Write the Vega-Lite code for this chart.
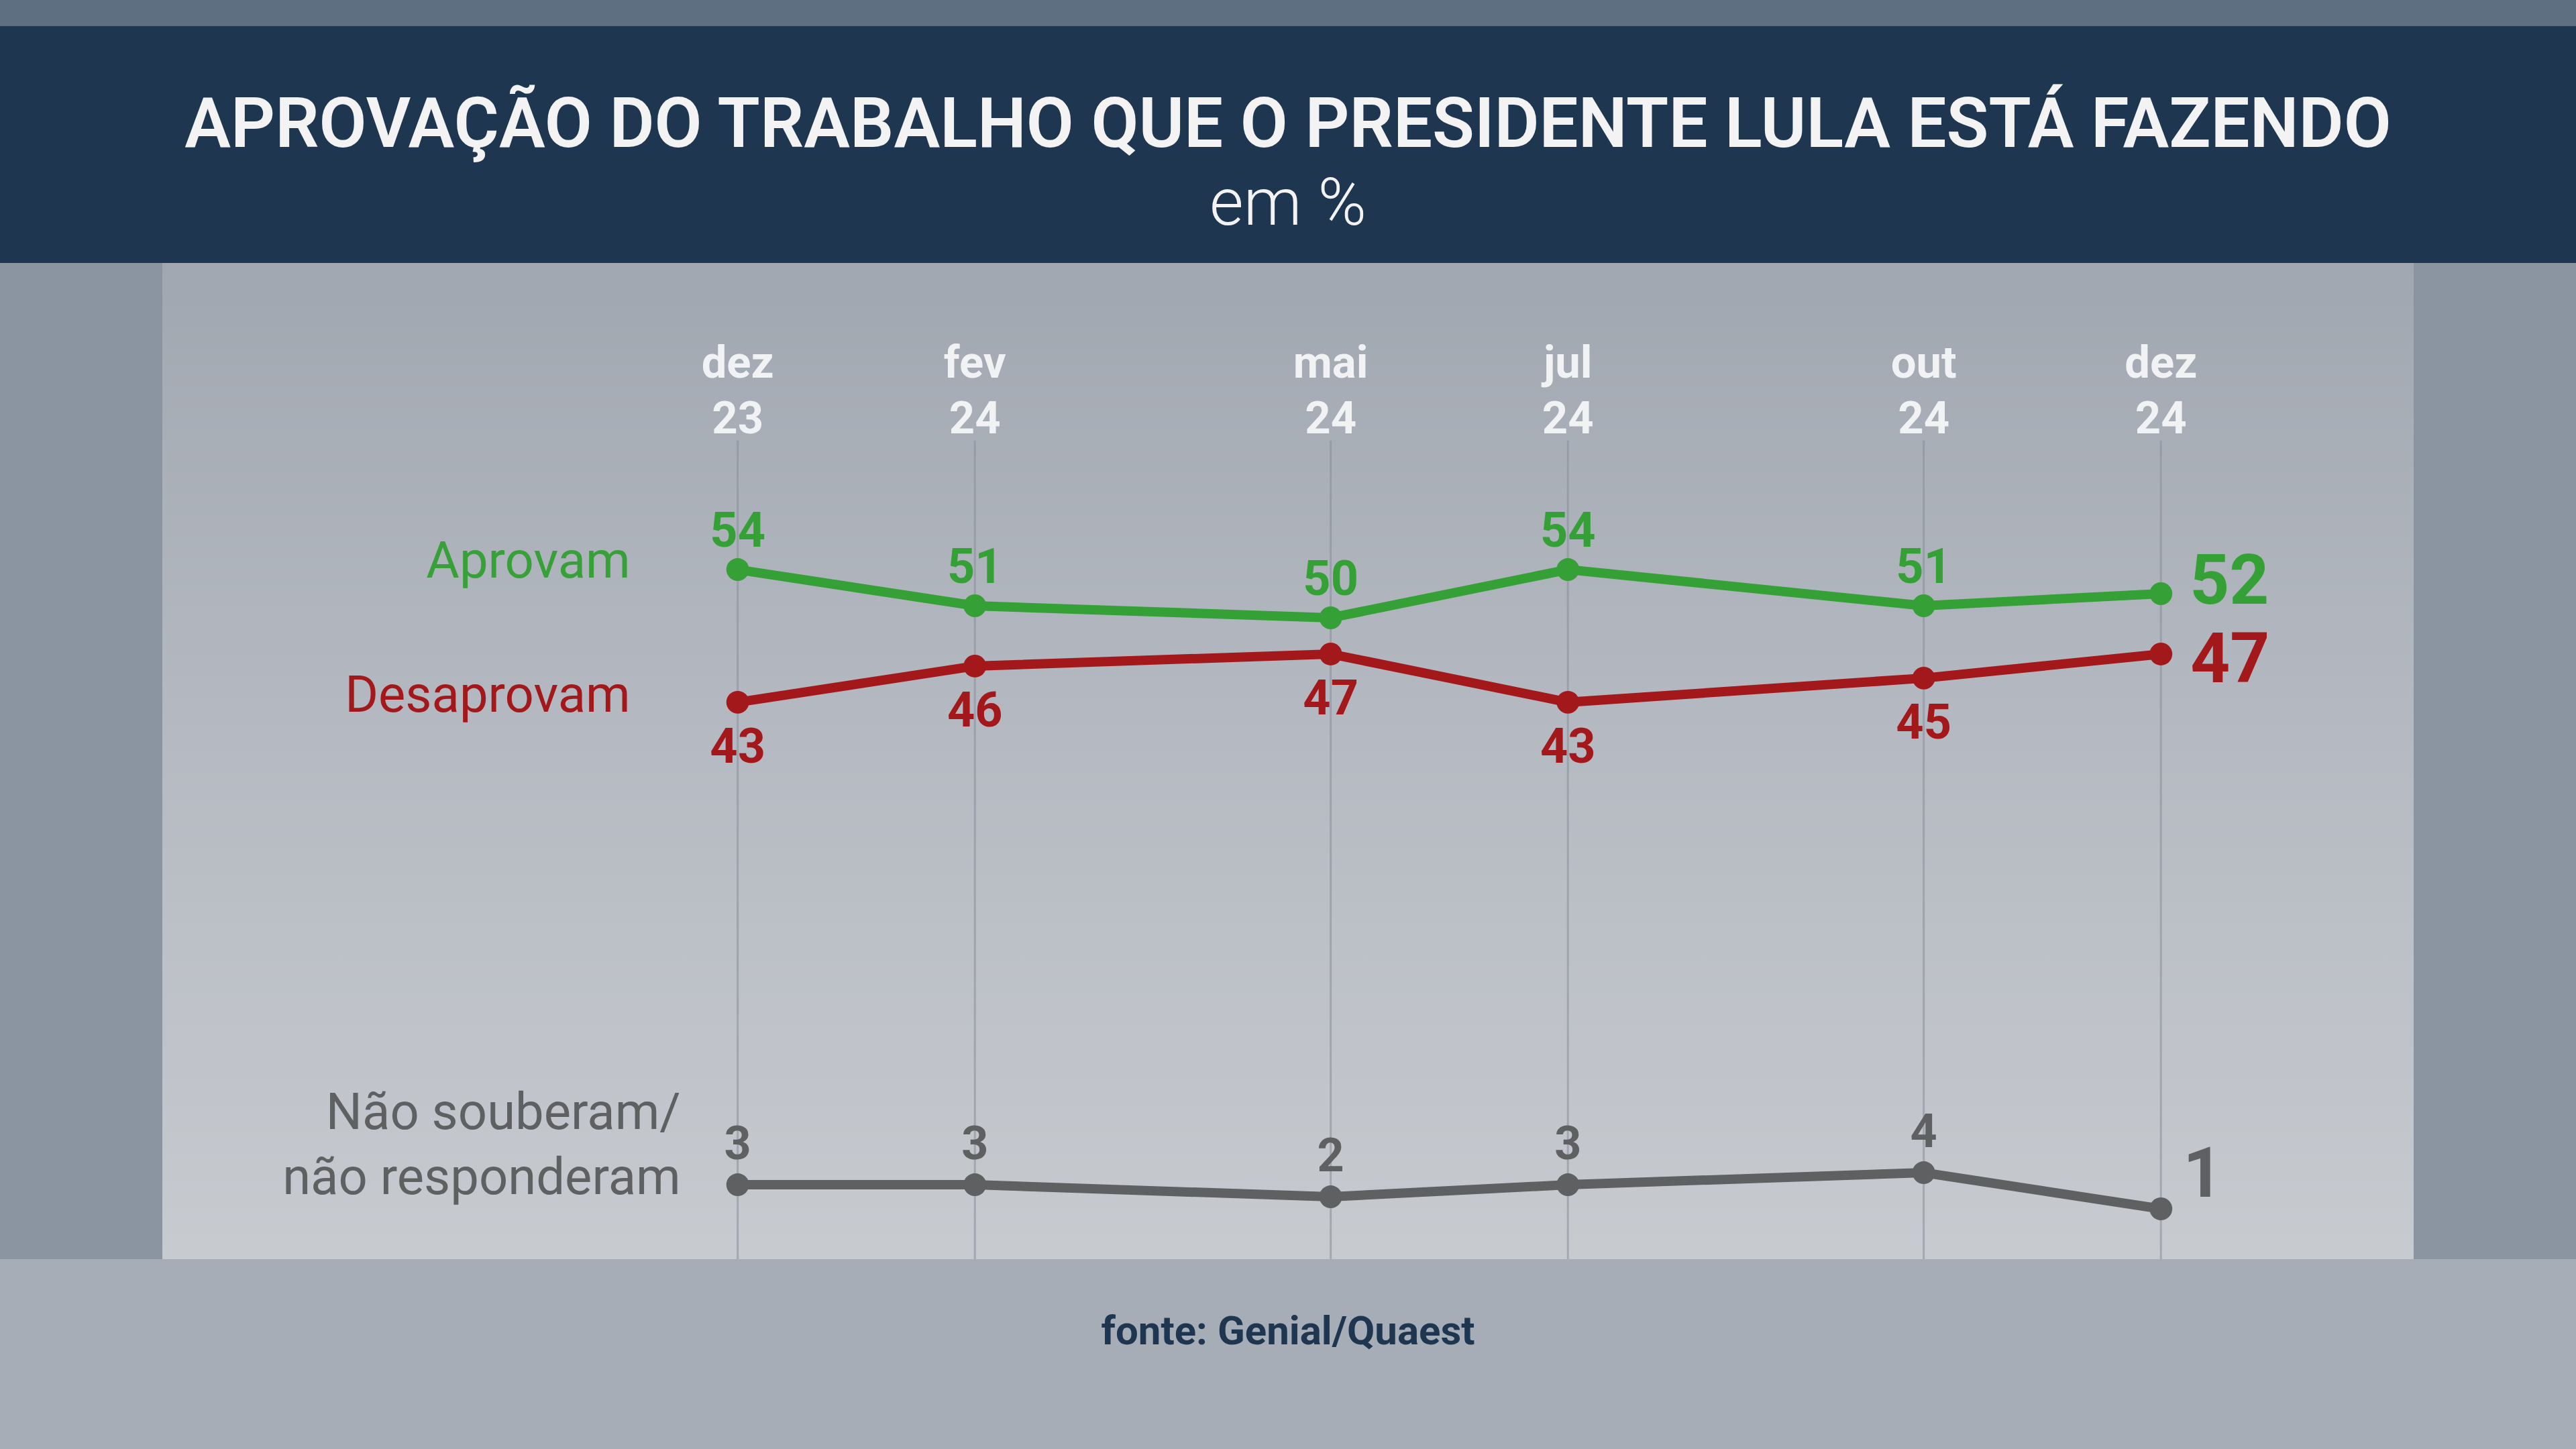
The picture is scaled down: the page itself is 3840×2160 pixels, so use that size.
{
  "$schema": "https://vega.github.io/schema/vega-lite/v6.json",
  "background": "#8a95a1",
  "padding": 0,
  "spacing": 0,
  "bounds": "flush",
  "center": true,
  "config": {"view": {"stroke": null}, "font": "Roboto"},
  "datasets": {
    "pontos": [
      {"serie": "Aprovam", "m": 0, "v": 54},
      {"serie": "Aprovam", "m": 2, "v": 51},
      {"serie": "Aprovam", "m": 5, "v": 50},
      {"serie": "Aprovam", "m": 7, "v": 54},
      {"serie": "Aprovam", "m": 10, "v": 51},
      {"serie": "Aprovam", "m": 12, "v": 52},
      {"serie": "Desaprovam", "m": 0, "v": 43},
      {"serie": "Desaprovam", "m": 2, "v": 46},
      {"serie": "Desaprovam", "m": 5, "v": 47},
      {"serie": "Desaprovam", "m": 7, "v": 43},
      {"serie": "Desaprovam", "m": 10, "v": 45},
      {"serie": "Desaprovam", "m": 12, "v": 47},
      {"serie": "Não souberam/\nnão responderam", "m": 0, "v": 3},
      {"serie": "Não souberam/\nnão responderam", "m": 2, "v": 3},
      {"serie": "Não souberam/\nnão responderam", "m": 5, "v": 2},
      {"serie": "Não souberam/\nnão responderam", "m": 7, "v": 3},
      {"serie": "Não souberam/\nnão responderam", "m": 10, "v": 4},
      {"serie": "Não souberam/\nnão responderam", "m": 12, "v": 1}
    ],
    "meses": [
      {"m": 0, "rotulo": "dez\n23"},
      {"m": 2, "rotulo": "fev\n24"},
      {"m": 5, "rotulo": "mai\n24"},
      {"m": 7, "rotulo": "jul\n24"},
      {"m": 10, "rotulo": "out\n24"},
      {"m": 12, "rotulo": "dez\n24"}
    ]
  },
  "vconcat": [
    {
      "width": 3840,
      "height": 392,
      "view": {"stroke": null, "fill": {"gradient": "linear", "x1": 0, "y1": 0, "x2": 0, "y2": 1, "stops": [{"offset": 0, "color": "#5d6f80"}, {"offset": 0.098, "color": "#5d6f80"}, {"offset": 0.1, "color": "#1f3651"}, {"offset": 1, "color": "#1f3651"}]}},
      "data": {"values": [{"titulo": "APROVAÇÃO DO TRABALHO QUE O PRESIDENTE LULA ESTÁ FAZENDO", "sub": "em %"}]},
      "layer": [
        {"mark": {"type": "text", "font": "Roboto", "fontWeight": 600, "fontSize": 103, "color": "#f3f3f3", "align": "center", "baseline": "alphabetic", "dy": 23}, "encoding": {"text": {"field": "titulo"}}},
        {"mark": {"type": "text", "font": "Roboto", "fontWeight": 300, "fontSize": 98, "color": "#f3f3f3", "align": "center", "baseline": "alphabetic", "dy": 139}, "encoding": {"text": {"field": "sub"}}}
      ]
    },
    {
      "width": 3356,
      "height": 1485,
      "view": {"stroke": null, "fill": {"gradient": "linear", "x1": 0, "y1": 0, "x2": 0, "y2": 1, "stops": [{"offset": 0, "color": "#a1a7b0"}, {"offset": 0.45, "color": "#b4b9c1"}, {"offset": 1, "color": "#c7cacf"}]}},
      "layer": [
        {
          "data": {"name": "meses"},
          "mark": {"type": "rule", "color": "#868d97", "strokeWidth": 3, "opacity": 0.55},
          "encoding": {
            "x": {"field": "m", "type": "quantitative", "scale": {"domain": [-4.851, 14.131], "nice": false, "zero": false}, "axis": null},
            "y": {"datum": 64.7, "type": "quantitative", "scale": {"domain": [-3.17, 79.42], "nice": false, "zero": false}, "axis": null},
            "y2": {"datum": -3.17}
          }
        },
        {
          "data": {"name": "meses"},
          "mark": {"type": "text", "fontWeight": "bold", "fontSize": 67, "color": "#f1f2f3", "align": "center", "baseline": "alphabetic", "lineBreak": "\n", "lineHeight": 83},
          "encoding": {
            "x": {"field": "m", "type": "quantitative"},
            "y": {"datum": 69.9, "type": "quantitative"},
            "text": {"field": "rotulo"}
          }
        },
        {
          "data": {"name": "pontos"},
          "mark": {"type": "line", "strokeWidth": 14, "strokeCap": "round"},
          "encoding": {
            "x": {"field": "m", "type": "quantitative"},
            "y": {"field": "v", "type": "quantitative"},
            "color": {"field": "serie", "type": "nominal", "scale": {"domain": ["Aprovam", "Desaprovam", "Não souberam/\nnão responderam"], "range": ["#35a035", "#a3181b", "#5e6062"]}, "legend": null}
          }
        },
        {
          "data": {"name": "pontos"},
          "mark": {"type": "circle", "size": 1150, "opacity": 1},
          "encoding": {
            "x": {"field": "m", "type": "quantitative"},
            "y": {"field": "v", "type": "quantitative"},
            "color": {"field": "serie", "type": "nominal", "legend": null}
          }
        },
        {
          "data": {"name": "pontos"},
          "transform": [{"filter": "datum.serie == 'Aprovam' && datum.m < 12"}],
          "mark": {"type": "text", "fontWeight": "bold", "fontSize": 72, "color": "#35a035", "align": "center", "baseline": "alphabetic", "dy": -34},
          "encoding": {"x": {"field": "m", "type": "quantitative"}, "y": {"field": "v", "type": "quantitative"}, "text": {"field": "v"}}
        },
        {
          "data": {"name": "pontos"},
          "transform": [{"filter": "datum.serie == 'Desaprovam' && datum.m < 12"}],
          "mark": {"type": "text", "fontWeight": "bold", "fontSize": 72, "color": "#a3181b", "align": "center", "baseline": "alphabetic", "dy": 90},
          "encoding": {"x": {"field": "m", "type": "quantitative"}, "y": {"field": "v", "type": "quantitative"}, "text": {"field": "v"}}
        },
        {
          "data": {"name": "pontos"},
          "transform": [{"filter": "datum.serie != 'Aprovam' && datum.serie != 'Desaprovam' && datum.m < 12"}],
          "mark": {"type": "text", "fontWeight": "bold", "fontSize": 70, "color": "#5e6062", "align": "center", "baseline": "alphabetic", "dy": -38},
          "encoding": {"x": {"field": "m", "type": "quantitative"}, "y": {"field": "v", "type": "quantitative"}, "text": {"field": "v"}}
        },
        {
          "data": {"name": "pontos"},
          "transform": [{"filter": "datum.serie == 'Aprovam' && datum.m == 12"}],
          "mark": {"type": "text", "fontWeight": "bold", "fontSize": 103, "color": "#35a035", "align": "left", "baseline": "alphabetic", "dx": 43, "dy": 15},
          "encoding": {"x": {"field": "m", "type": "quantitative"}, "y": {"field": "v", "type": "quantitative"}, "text": {"field": "v"}}
        },
        {
          "data": {"name": "pontos"},
          "transform": [{"filter": "datum.serie == 'Desaprovam' && datum.m == 12"}],
          "mark": {"type": "text", "fontWeight": "bold", "fontSize": 103, "color": "#a3181b", "align": "left", "baseline": "alphabetic", "dx": 44, "dy": 42},
          "encoding": {"x": {"field": "m", "type": "quantitative"}, "y": {"field": "v", "type": "quantitative"}, "text": {"field": "v"}}
        },
        {
          "data": {"name": "pontos"},
          "transform": [{"filter": "datum.serie != 'Aprovam' && datum.serie != 'Desaprovam' && datum.m == 12"}],
          "mark": {"type": "text", "fontWeight": "bold", "fontSize": 103, "color": "#5e6062", "align": "left", "baseline": "alphabetic", "dx": 33, "dy": -18},
          "encoding": {"x": {"field": "m", "type": "quantitative"}, "y": {"field": "v", "type": "quantitative"}, "text": {"field": "v"}}
        },
        {
          "data": {"name": "pontos"},
          "transform": [{"filter": "datum.serie == 'Aprovam' && datum.m == 0"}],
          "mark": {"type": "text", "fontSize": 76, "color": "#38a038", "align": "right", "baseline": "alphabetic", "dx": -160, "dy": 12},
          "encoding": {"x": {"field": "m", "type": "quantitative"}, "y": {"field": "v", "type": "quantitative"}, "text": {"field": "serie"}}
        },
        {
          "data": {"name": "pontos"},
          "transform": [{"filter": "datum.serie == 'Desaprovam' && datum.m == 0"}],
          "mark": {"type": "text", "fontSize": 76, "color": "#a3181b", "align": "right", "baseline": "alphabetic", "dx": -160, "dy": 14},
          "encoding": {"x": {"field": "m", "type": "quantitative"}, "y": {"field": "v", "type": "quantitative"}, "text": {"field": "serie"}}
        },
        {
          "data": {"name": "pontos"},
          "transform": [{"filter": "datum.serie != 'Aprovam' && datum.serie != 'Desaprovam' && datum.m == 0"}],
          "mark": {"type": "text", "fontSize": 76, "color": "#5e6062", "align": "right", "baseline": "alphabetic", "lineBreak": "\n", "lineHeight": 97, "dx": -85, "dy": -83},
          "encoding": {"x": {"field": "m", "type": "quantitative"}, "y": {"field": "v", "type": "quantitative"}, "text": {"field": "serie"}}
        }
      ]
    },
    {
      "width": 3840,
      "height": 283,
      "view": {"stroke": null, "fill": "#a7adb6"},
      "data": {"values": [{"fonte": "fonte: Genial/Quaest"}]},
      "mark": {"type": "text", "fontWeight": "bold", "fontSize": 60, "color": "#1f3651", "align": "center", "baseline": "alphabetic", "dy": -15},
      "encoding": {"text": {"field": "fonte"}}
    }
  ]
}
